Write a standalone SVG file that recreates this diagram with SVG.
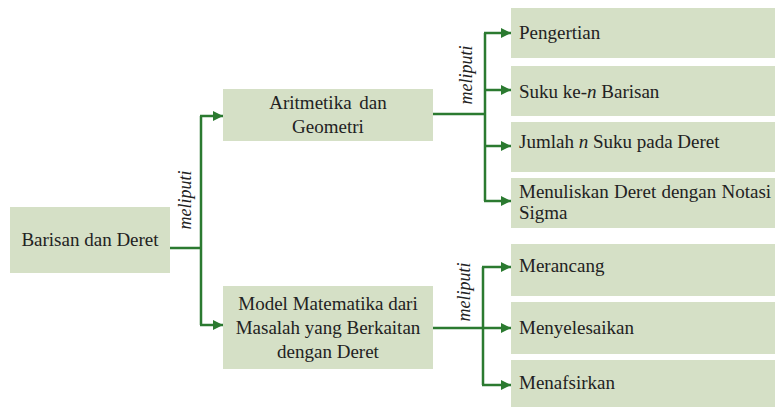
<svg xmlns="http://www.w3.org/2000/svg" width="775" height="407" viewBox="0 0 775 407">
  <defs>
    <marker id="arr" viewBox="0 0 10 10" refX="10" refY="5" markerWidth="4" markerHeight="4" orient="auto" markerUnits="strokeWidth">
      <path d="M0,0 L10,5 L0,10 Z" fill="#2b7a30"/>
    </marker>
  </defs>
  <style>
    .box { fill: #d5e0c6; }
    .t { font-family: "Liberation Serif", "Times New Roman", serif; font-size: 19px; fill: #222; }
    .c { text-anchor: middle; }
    .lbl { font-family: "Liberation Serif", "Times New Roman", serif; font-size: 18px; font-style: italic; fill: #222; text-anchor: middle; }
    .ln { fill: none; stroke: #2b7a30; stroke-width: 2.5; }
    .ar { fill: none; stroke: #2b7a30; stroke-width: 2.5; marker-end: url(#arr); }
  </style>
  <rect width="775" height="407" fill="#ffffff"/>

  <g id="connectors">
    <path class="ln" d="M170,248 H201 M201,116 V325"/>
    <path class="ar" d="M200,116 H223"/>
    <path class="ar" d="M200,325 H223"/>
    <path class="ln" d="M433,114 H485 M485,33 V201"/>
    <path class="ar" d="M484,33 H511"/>
    <path class="ar" d="M484,90 H511"/>
    <path class="ar" d="M484,146 H511"/>
    <path class="ar" d="M484,201 H511"/>
    <path class="ln" d="M433,328 H483 M483,267 V385"/>
    <path class="ar" d="M482,267 H511"/>
    <path class="ar" d="M482,328 H511"/>
    <path class="ar" d="M482,385 H511"/>
    <text class="lbl" transform="translate(191,200) rotate(-90)">meliputi</text>
    <text class="lbl" transform="translate(472,75) rotate(-90)">meliputi</text>
    <text class="lbl" transform="translate(470,292) rotate(-90)">meliputi</text>
  </g>

  <g id="node-barisan">
    <rect class="box" x="10" y="207" width="160" height="66"/>
    <text class="t c" x="90" y="246">Barisan dan Deret</text>
  </g>

  <g id="node-aritmetika">
    <rect class="box" x="223" y="89" width="210" height="52"/>
    <text class="t c" x="328" y="109" word-spacing="3">Aritmetika dan</text>
    <text class="t c" x="328" y="133">Geometri</text>
  </g>

  <g id="node-model">
    <rect class="box" x="223" y="286" width="210" height="83"/>
    <text class="t c" x="328" y="310">Model Matematika dari</text>
    <text class="t c" x="328" y="334">Masalah yang Berkaitan</text>
    <text class="t c" x="328" y="358">dengan Deret</text>
  </g>

  <g id="node-pengertian">
    <rect class="box" x="511" y="8" width="264" height="50"/>
    <text class="t" x="519" y="39">Pengertian</text>
  </g>

  <g id="node-suku">
    <rect class="box" x="511" y="66" width="264" height="50"/>
    <text class="t" x="519" y="98">Suku ke-<tspan font-style="italic">n</tspan> Barisan</text>
  </g>

  <g id="node-jumlah">
    <rect class="box" x="511" y="122" width="264" height="50"/>
    <text class="t" x="519" y="148">Jumlah <tspan font-style="italic">n</tspan> Suku pada Deret</text>
  </g>

  <g id="node-menuliskan">
    <rect class="box" x="511" y="178" width="264" height="50"/>
    <text class="t" x="519" y="198" word-spacing="0.5">Menuliskan Deret dengan Notasi</text>
    <text class="t" x="519" y="219">Sigma</text>
  </g>

  <g id="node-merancang">
    <rect class="box" x="511" y="244" width="264" height="52"/>
    <text class="t" x="519" y="272">Merancang</text>
  </g>

  <g id="node-menyelesaikan">
    <rect class="box" x="511" y="302" width="264" height="52"/>
    <text class="t" x="519" y="334">Menyelesaikan</text>
  </g>

  <g id="node-menafsirkan">
    <rect class="box" x="511" y="360" width="264" height="47"/>
    <text class="t" x="519" y="389">Menafsirkan</text>
  </g>
</svg>
